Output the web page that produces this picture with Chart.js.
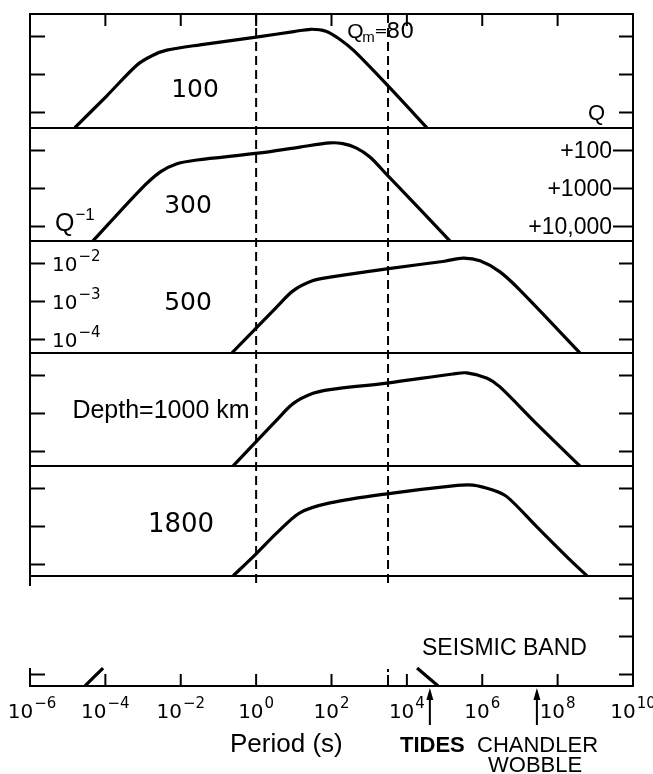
<!DOCTYPE html>
<html><head><meta charset="utf-8">
<script src="https://cdn.jsdelivr.net/npm/chart.js@4.4.1/dist/chart.umd.min.js"></script>
<style>html,body{margin:0;padding:0;background:#fff}#wrap{width:653px;height:774px;position:relative}</style>
</head><body><div id="wrap"><canvas id="c"></canvas></div>
<script>
// ---- data (x = log10 period in s, y = log10 Q^-1) ----
const panelNames = ["100", "300", "500", "Depth=1000 km", "1800", ""];
const p100X = [-4.81,-3.96,-3.16,-2.75,-2.37,-1.49,0.05,1.00,1.45,1.85,2.20,2.60,3.50,4.53];
const p100Y = [-4.40,-3.56,-2.75,-2.50,-2.36,-2.22,-2.01,-1.87,-1.81,-1.86,-2.06,-2.38,-3.30,-4.40];
const p300X = [-4.33,-3.08,-2.55,-2.10,-1.57,0.05,1.16,1.96,2.30,2.65,3.02,3.50,4.35,5.14];
const p300Y = [-4.38,-3.04,-2.57,-2.35,-2.25,-2.07,-1.91,-1.80,-1.82,-1.93,-2.17,-2.67,-3.55,-4.38];
const p500X = [-0.64,0.55,0.98,1.51,1.96,3.47,5.00,5.49,5.94,6.47,7.00,8.59];
const p500Y = [-4.35,-3.14,-2.72,-2.45,-2.36,-2.14,-1.94,-1.86,-1.93,-2.22,-2.70,-4.35];
const p1000X = [-0.61,0.55,0.98,1.51,1.96,3.47,5.22,5.59,6.13,6.47,7.45,8.59];
const p1000Y = [-4.38,-3.17,-2.74,-2.47,-2.37,-2.20,-1.96,-1.93,-2.07,-2.30,-3.28,-4.38];
const p1800X = [-0.61,0.02,0.55,1.16,1.96,3.47,5.22,5.75,6.28,6.66,7.45,8.33,8.78];
const p1800Y = [-4.30,-3.70,-3.17,-2.64,-2.38,-2.14,-1.93,-1.91,-2.04,-2.22,-3.01,-3.88,-4.30];
const p6X = [-4.54,-4.06,0,4.27,4.83];
const p6Y = [-4.30,-3.83,null,-3.83,-4.30];

const xTickDecades = [-6,-4,-2,0,2,4,6,8,10];
const xTickExp = ["\u22126","\u22124","\u22122","0","2","4","6","8","10"];
const qinvTicks = [-2,-3,-4];
const qinvExp = ["\u22122","\u22123","\u22124"];
const qLabels = ["+100","+1000","+10,000"];
const dashedDecades = [0, 3.5];
const markerDecades = [4.61, 7.45];
const markerLabels = ["TIDES", "CHANDLER"];

// ---- chart ----
const panelIds = ['d100','d300','d500','d1000','d1800','d6'];
const panelWeights = [114,113,112,113,110,110];
const pxPerDecade = 38;
const axisMax = -1.408;
const series = [[p100X,p100Y],[p300X,p300Y],[p500X,p500Y],[p1000X,p1000Y],[p1800X,p1800Y],[p6X,p6Y]];

const scales = { x: { type:'linear', min:-6, max:10, display:false } };
// left-stacked axes are laid out in reverse order of definition
for (let i = panelIds.length - 1; i >= 0; i--) {
  scales[panelIds[i]] = { type:'linear', position:'left', stack:'depth', stackWeight: panelWeights[i],
    max: axisMax, min: axisMax - panelWeights[i]/pxPerDecade, display:false };
}

const datasets = series.map((s,i)=>({
  data: s[0].map((x,j)=>({x, y: s[1][j]})),
  yAxisID: panelIds[i], borderColor:'#000', borderWidth:3.2, pointRadius:0,
  fill:false, tension:0.3, spanGaps:false
}));

const LS = "'Liberation Sans', Arial, sans-serif";
const DJ = "'DejaVu Sans', sans-serif";

const overlay = {
  id:'overlay',
  afterDraw(chart){
    const ctx = chart.ctx, xs = chart.scales.x, ys = panelIds.map(id=>chart.scales[id]);
    const {left:L, right:R, top:T, bottom:B} = chart.chartArea;
    const X = v => xs.getPixelForValue(v);
    ctx.save();
    ctx.strokeStyle = '#000'; ctx.fillStyle = '#000'; ctx.lineCap = 'butt';
    const seg = (x1,y1,x2,y2,w=2)=>{ ctx.lineWidth=w; ctx.beginPath(); ctx.moveTo(x1,y1); ctx.lineTo(x2,y2); ctx.stroke(); };
    const p5b = ys[4].bottom;
    // frame
    seg(L-1,T,R+1,T); seg(R,T,R,B+1); seg(L-1,B,R+1,B);
    seg(L,T,L,p5b+10); seg(L,B-18,L,B);
    for (let i=0;i<5;i++) seg(L,ys[i].bottom,R,ys[i].bottom);
    // y ticks
    ys.forEach((s,i)=>{
      qinvTicks.forEach((v,k)=>{
        const y = s.getPixelForValue(v);
        if (i<5 || k===2) seg(L,y,L+15,y);
        seg(R-(i===1?20:14),y,R,y);
      });
    });
    // x ticks
    xTickDecades.forEach(d=>{
      if (d<=-6 || d>=10) return;
      const x = X(d);
      seg(x,T,x,T+12); seg(x,B,x,B-12);
    });
    // dashed lines
    ctx.setLineDash([9,5]);
    dashedDecades.forEach(d=>{ const x=X(d); seg(x,T,x,p5b+10); });
    ctx.setLineDash([]);
    seg(X(3.5),B-11,X(3.5),B); seg(X(3.5),B-17,X(3.5),B-14);
    // arrows
    markerDecades.forEach(d=>{
      const x = X(d);
      seg(x,B+39,x,B+10,2);
      ctx.beginPath(); ctx.moveTo(x,B+2); ctx.lineTo(x-3.5,B+14); ctx.lineTo(x+3.5,B+14); ctx.closePath(); ctx.fill();
    });
    // text helpers
    const txt = (s,x,y,font,align='left')=>{ ctx.font=font; ctx.textAlign=align; ctx.textBaseline='alphabetic'; ctx.fillText(s,x,y); };
    const sup = (base,exp,x,y,bf,sf,rise,align)=>{
      ctx.font=bf; const wb=ctx.measureText(base).width;
      ctx.font=sf; const we=ctx.measureText(exp).width;
      const x0 = align==='center' ? x-(wb+we+1)/2 : x;
      txt(base,x0,y,bf); txt(exp,x0+wb+1,y-rise,sf);
    };
    // x tick labels
    xTickDecades.forEach((d,i)=>{
      sup("10", xTickExp[i], X(d)+ (d===-6?2:0), B+32, "20px "+DJ, "15px "+DJ, 10, 'center');
    });
    // Q^-1 labels (panel 3, left)
    qinvTicks.forEach((v,k)=>{
      const y = ys[2].getPixelForValue(v);
      sup("10", qinvExp[k], L+22, y+8, "20px "+DJ, "15px "+DJ, 10, 'left');
    });
    // Q labels (panel 2, right)
    qLabels.forEach((s,k)=>{
      const y = ys[1].getPixelForValue(qinvTicks[k]);
      txt(s, R-21, y+8, "23px "+LS, 'right');
    });
    // axis symbols
    txt("Q", R-45, ys[0].bottom-8, "22px "+LS);
    sup("Q", "\u22121", L+25, ys[1].bottom-10, "25px "+LS, "17px "+LS, 11, 'left');
    // Q_m = 80
    const qx = X(2.42);
    txt("Q", qx, T+24, "21px "+LS);
    txt("m", qx+15, T+28, "15px "+LS);
    txt("=", qx+27, T+22, "16px "+DJ);
    txt("80", qx+39, T+24, "22px "+DJ);
    // depth labels
    const lp = [[195,83,"25px "+DJ],[188,85,"25px "+DJ],[188,69,"25px "+DJ],[161,65,"25px "+LS],[181,66,"26px "+DJ]];
    lp.forEach((p,i)=>{ txt(panelNames[i], p[0], ys[i].top+p[1], p[2], 'center'); });
    // bottom texts
    txt("SEISMIC BAND", 422, ys[5].top+79, "23px "+LS);
    txt("Period (s)", 230, B+66, "26px "+LS);
    txt(markerLabels[0], 400, B+66, "bold 22px "+LS);
    txt(markerLabels[1], 477, B+66, "22px "+LS);
    txt("WOBBLE", 488, B+86, "22px "+LS);
    ctx.restore();
  }
};

new Chart(document.getElementById('c'), {
  type:'line',
  data:{ datasets },
  options:{
    responsive:true, maintainAspectRatio:false, animation:false, events:[],
    layout:{ padding:{ left:30, right:20, top:14, bottom:88 } },
    plugins:{ legend:{display:false}, tooltip:{enabled:false} },
    scales
  },
  plugins:[overlay]
});
</script></body></html>
